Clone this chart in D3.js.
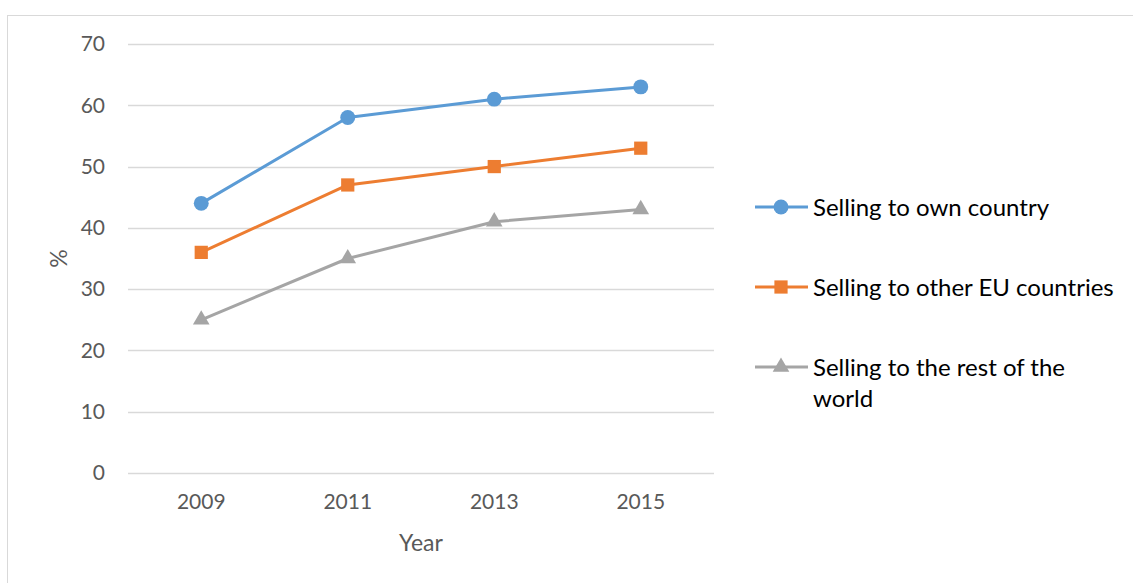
<!DOCTYPE html>
<html>
<head>
<meta charset="utf-8">
<script src="https://cdn.jsdelivr.net/npm/d3@7"></script>
<style>
  html, body { margin: 0; padding: 0; background: #fff; }
  svg { display: block; font-family: Lato, "Open Sans", sans-serif; }
</style>
</head>
<body>
<svg id="chart" width="1133" height="583"></svg>
<script>
// Survey years and share (%) of firms selling online, by destination
const years = ["2009", "2011", "2013", "2015"];
const ownCountry = [44, 58, 61, 63];
const otherEU = [36, 47, 50, 53];
const restOfWorld = [25, 35, 41, 43];
const yTicks = [0, 10, 20, 30, 40, 50, 60, 70];
const seriesNames = ["Selling to own country", "Selling to other EU countries", "Selling to the rest of the world"];

const series = [
  { name: seriesNames[0], values: ownCountry, color: "#5b9bd5", symbol: d3.symbolCircle, size: 175 },
  { name: seriesNames[1], values: otherEU, color: "#ed7d31", symbol: d3.symbolSquare, size: 175 },
  { name: seriesNames[2], values: restOfWorld, color: "#a5a5a5", symbol: d3.symbolTriangle, size: 120 }
];

const svg = d3.select("#chart");
const margin = { left: 128, right: 714, top: 44, bottom: 473 };

// Outer chart frame
svg.append("rect")
  .attr("x", 7.5).attr("y", 15.5)
  .attr("width", 1140).attr("height", 600)
  .attr("fill", "none").attr("stroke", "#d9d9d9").attr("stroke-width", 1);

const x = d3.scaleBand().domain(years).range([margin.left, margin.right]);
const y = d3.scaleLinear().domain([0, 70]).range([margin.bottom, margin.top]);

// Horizontal gridlines
svg.append("g").selectAll("line").data(yTicks).join("line")
  .attr("x1", margin.left).attr("x2", margin.right)
  .attr("y1", d => Math.round(y(d)) + 0.5).attr("y2", d => Math.round(y(d)) + 0.5)
  .attr("stroke", "#d9d9d9").attr("stroke-width", 1.3);

// Y axis tick labels
const yAxis = svg.append("g")
  .attr("transform", `translate(${margin.left - 23},0)`)
  .call(d3.axisLeft(y).tickValues(yTicks).tickSize(0).tickPadding(0));
yAxis.select(".domain").remove();
yAxis.selectAll("text")
  .attr("font-size", 21).attr("fill", "#595959")
  .attr("font-family", "Lato, 'Open Sans', sans-serif");

// X axis tick labels
const xAxis = svg.append("g")
  .attr("transform", `translate(0,${margin.bottom + 21})`)
  .call(d3.axisBottom(x).tickSize(0).tickPadding(0));
xAxis.select(".domain").remove();
xAxis.selectAll("text")
  .attr("font-size", 21).attr("fill", "#595959")
  .attr("font-family", "Lato, 'Open Sans', sans-serif");

// Axis titles
svg.append("text")
  .attr("x", (margin.left + margin.right) / 2 - 0).attr("y", 551)
  .attr("text-anchor", "middle").attr("font-size", 23).attr("fill", "#595959")
  .text("Year");
svg.append("text")
  .attr("transform", `translate(67,${(margin.top + margin.bottom) / 2}) rotate(-90)`)
  .attr("text-anchor", "middle").attr("font-size", 23).attr("fill", "#595959")
  .text("%");

const cx = d => x(d) + x.bandwidth() / 2;
const line = d3.line().x((d, i) => cx(years[i])).y(d => y(d));

// Series lines and markers
series.forEach(s => {
  svg.append("path")
    .attr("d", line(s.values))
    .attr("fill", "none").attr("stroke", s.color)
    .attr("stroke-width", 3).attr("stroke-linejoin", "round");
  svg.append("g").selectAll("path").data(s.values).join("path")
    .attr("transform", (d, i) => `translate(${cx(years[i])},${y(d)})`)
    .attr("d", d3.symbol().type(s.symbol).size(s.size))
    .attr("fill", s.color);
});

// Legend
const legendY = [207, 287, 367];
series.forEach((s, i) => {
  const g = svg.append("g").attr("transform", `translate(755,${legendY[i]})`);
  g.append("line").attr("x1", 0).attr("x2", 53).attr("y1", 0).attr("y2", 0)
    .attr("stroke", s.color).attr("stroke-width", 3);
  g.append("path").attr("transform", "translate(26,0)")
    .attr("d", d3.symbol().type(s.symbol).size(s.size)).attr("fill", s.color);
  const t = g.append("text").attr("x", 58).attr("y", 0).attr("dy", "0.36em")
    .attr("font-size", 24).attr("fill", "#000");
  if (i === 2) {
    t.append("tspan").attr("x", 58).text("Selling to the rest of the");
    t.append("tspan").attr("x", 58).attr("dy", "1.3em").text("world");
  } else {
    t.text(s.name);
  }
});
</script>
</body>
</html>
